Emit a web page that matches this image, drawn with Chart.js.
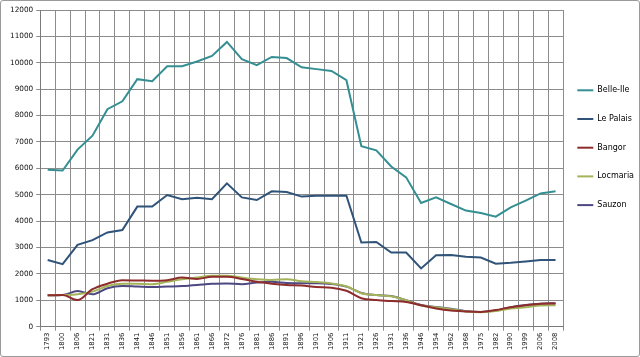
<!DOCTYPE html>
<html>
<head>
<meta charset="utf-8">
<script src="https://cdn.jsdelivr.net/npm/chart.js@4.4.1/dist/chart.umd.min.js"></script>
<style>
  html, body { margin: 0; padding: 0; background: #ffffff; }
  #frame { position: absolute; left: 0; top: 0; width: 638px; height: 355px; border: 1px solid #9a9a9a; border-radius: 3px; background: #fff; }
  #frame canvas { display: block; }
</style>
</head>
<body>
<div id="frame"><canvas id="c" width="638" height="355"></canvas></div>
<script>
const years = ['1793','1800','1806','1821','1831','1836','1841','1846','1851','1856','1861','1866','1872','1876','1881','1886','1891','1896','1901','1906','1911','1921','1926','1931','1936','1946','1954','1962','1968','1975','1982','1990','1999','2006','2008'];

const belleIle = [5950, 5920, 6710, 7240, 8240, 8540, 9380, 9300, 9870, 9870, 10050, 10260, 10790, 10140, 9910, 10220, 10180, 9830, 9760, 9690, 9340, 6840, 6680, 6070, 5660, 4690, 4900, 4650, 4400, 4310, 4170, 4520, 4780, 5050, 5130];
const lePalais = [2530, 2370, 3100, 3280, 3570, 3660, 4550, 4550, 4990, 4830, 4890, 4830, 5430, 4900, 4800, 5130, 5100, 4930, 4960, 4960, 4960, 3190, 3210, 2810, 2810, 2210, 2710, 2720, 2650, 2620, 2390, 2420, 2470, 2530, 2530];
const bangor = [1190, 1200, 1010, 1420, 1630, 1760, 1750, 1740, 1760, 1860, 1810, 1890, 1890, 1810, 1700, 1630, 1580, 1560, 1500, 1480, 1360, 1080, 1010, 970, 940, 810, 690, 610, 580, 560, 630, 740, 810, 870, 880];
const locmaria = [1190, 1200, 1230, 1330, 1540, 1630, 1630, 1610, 1700, 1800, 1860, 1930, 1930, 1860, 1800, 1770, 1800, 1720, 1690, 1640, 1530, 1270, 1200, 1150, 1000, 800, 740, 660, 580, 550, 590, 690, 740, 800, 810];
const sauzon = [1190, 1200, 1350, 1230, 1460, 1540, 1520, 1500, 1520, 1540, 1580, 1630, 1640, 1610, 1670, 1700, 1660, 1650, 1650, 1620, 1520, 1280, 1200, 1160, 1000, 820, 750, 680, 590, 560, 610, 740, 820, 870, 890];

const seriesNames = ['Belle-Ile', 'Le Palais', 'Bangor', 'Locmaria', 'Sauzon'];
const seriesValues = [belleIle, lePalais, bangor, locmaria, sauzon];
const seriesColors = ['#358f92', '#2f5379', '#8e2b2b', '#a4b45a', '#4e4882'];
const smoothSeries = [false, false, true, true, true];

const yMin = 0, yMax = 12000, yStep = 1000;

const datasets = seriesNames.map((name, i) => ({
  label: name,
  data: seriesValues[i],
  borderColor: seriesColors[i],
  backgroundColor: seriesColors[i],
  borderWidth: 2,
  pointRadius: 0,
  fill: false,
  tension: smoothSeries[i] ? 0.35 : 0,
  cubicInterpolationMode: smoothSeries[i] ? 'monotone' : 'default'
}));

new Chart(document.getElementById('c'), {
  type: 'line',
  data: { labels: years, datasets },
  options: {
    responsive: false,
    animation: false,
    devicePixelRatio: 1,
    layout: { padding: { left: 6, top: 9, right: 0, bottom: 4 } },
    plugins: {
      tooltip: { enabled: false },
      legend: {
        position: 'right',
        align: 'start',
        maxWidth: 76,
        title: { display: true, text: '', padding: { top: 54, bottom: 0 }, font: { size: 8, lineHeight: 1 } },
        labels: {
          boxWidth: 16,
          boxHeight: 2,
          padding: 14.3,
          color: '#000',
          font: { family: 'DejaVu Sans', size: 8, lineHeight: 1.8 },
          generateLabels(chart) {
            const items = Chart.defaults.plugins.legend.labels.generateLabels(chart);
            items.forEach(it => { it.text = [it.text]; it.lineWidth = 0; });
            return items;
          }
        }
      }
    },
    scales: {
      x: {
        offset: true,
        grid: { offset: true, color: '#8c8c8c', lineWidth: 1, tickLength: 4, drawTicks: true },
        border: { color: '#7a7a7a' },
        ticks: {
          autoSkip: false,
          minRotation: 90,
          maxRotation: 90,
          padding: 2,
          color: '#111',
          font: { family: 'DejaVu Sans', size: 6.8 }
        }
      },
      y: {
        min: yMin,
        max: yMax,
        grid: { color: '#8c8c8c', lineWidth: 1, tickLength: 4 },
        border: { color: '#7a7a7a' },
        ticks: {
          stepSize: yStep,
          padding: 3,
          color: '#111',
          font: { family: 'DejaVu Sans', size: 7.3 },
          callback: v => String(v)
        }
      }
    }
  }
});
</script>
</body>
</html>
